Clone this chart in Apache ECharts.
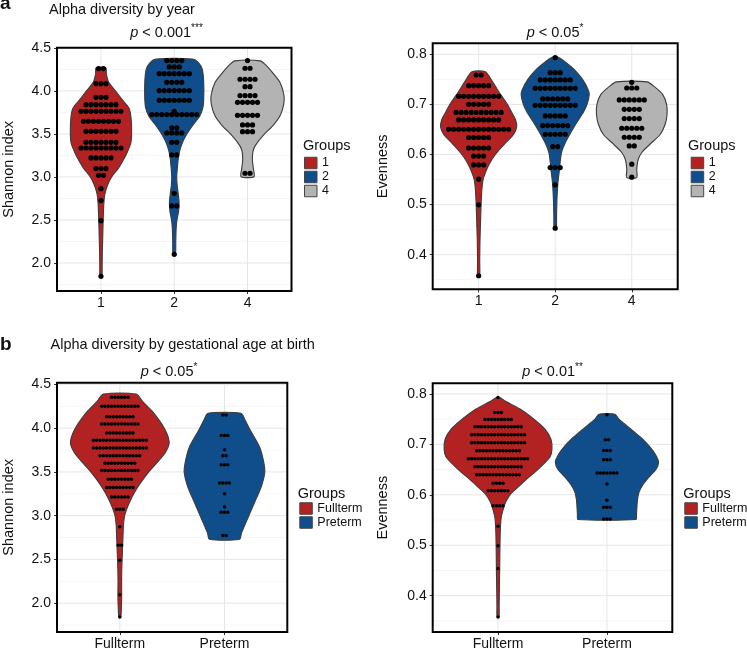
<!DOCTYPE html>
<html><head><meta charset="utf-8">
<script src="https://cdn.jsdelivr.net/npm/echarts@6/dist/echarts.min.js"></script>
<style>html,body{margin:0;padding:0;background:#fff}#c{width:747px;height:651px}</style>
</head><body><div id="c"></div>
<script>
// ---------------- data ----------------
const yearCats = ['1', '2', '4'];
const gestCats = ['Fullterm', 'Preterm'];
const shannonTicks = [2.0, 2.5, 3.0, 3.5, 4.0, 4.5];
const shannonMinor = [1.75, 2.25, 2.75, 3.25, 3.75, 4.25];
const evenTicks = [0.4, 0.5, 0.6, 0.7, 0.8];
const evenMinor = [0.35, 0.45, 0.55, 0.65, 0.75];

// dot-plot rows: [value, number of dots in the row]
const shYear1 = [[4.26,2],[4.085,3],[3.926,3],[3.841,7],[3.764,9],[3.647,8],[3.531,7],[3.403,7],[3.337,9],[3.221,5],[3.097,3],[3.019,2],[2.864,1],[2.725,1],[2.492,1],[1.845,1]];
const shYear2 = [[4.353,4],[4.279,3],[4.2015,7],[4.10,4],[4.004,7],[3.892,7],[3.764,1],[3.725,10],[3.570,2],[3.512,4],[3.403,2],[3.256,2],[2.810,1],[2.663,2],[2.10,1]];
const shYear4 = [[4.353,1],[4.264,2],[4.136,4],[4.05,2],[3.946,4],[3.868,5],[3.717,5],[3.605,3],[3.527,3],[3.043,2]];
const evYear1 = [[0.7587,2],[0.7375,5],[0.7162,9],[0.7003,5],[0.684,10],[0.669,9],[0.6504,13],[0.634,5],[0.613,5],[0.597,3],[0.5793,3],[0.5508,1],[0.4996,1],[0.358,1]];
const evYear2 = [[0.7933,1],[0.7634,3],[0.7488,7],[0.7322,9],[0.7109,6],[0.6983,9],[0.677,5],[0.6577,6],[0.6405,5],[0.6159,2],[0.574,3],[0.5395,1],[0.4531,1]];
const evYear4 = [[0.7441,1],[0.7328,3],[0.7089,6],[0.6903,4],[0.6717,4],[0.6524,5],[0.6345,4],[0.6172,2],[0.5807,1],[0.5548,1]];
const shFull = [[4.355,6],[4.25,12],[4.131,9],[4.047,12],[3.946,9],[3.863,17],[3.773,17],[3.686,13],[3.598,10],[3.515,12],[3.416,8],[3.323,9],[3.213,6],[3.072,3],[2.874,1],[2.662,2],[2.489,1],[2.097,1],[1.842,1]];
const shPre = [[4.152,2],[3.916,3],[3.753,1],[3.684,2],[3.582,3],[3.373,4],[3.251,1],[3.099,1],[3.038,3],[2.772,2]];
const evFull = [[0.7927,1],[0.7631,3],[0.7492,9],[0.7347,15],[0.7189,17],[0.7031,17],[0.6873,14],[0.6715,19],[0.6557,15],[0.6398,14],[0.6227,4],[0.6082,7],[0.5785,4],[0.5377,1],[0.4988,1],[0.4540,1],[0.3578,1]];
const evPre = [[0.7585,1],[0.709,2],[0.688,3],[0.6695,3],[0.6431,7],[0.6214,1],[0.5891,1],[0.5752,3],[0.5522,3]];

// violin outlines: [value, half-width in category units], from top to bottom
const vShYear1 = [[4.27,0.066],[4.2,0.073],[4.1,0.106],[4.0,0.198],[3.9,0.29],[3.8,0.383],[3.7,0.409],[3.55,0.418],[3.4,0.409],[3.3,0.365],[3.2,0.307],[3.1,0.237],[3.0,0.145],[2.9,0.088],[2.8,0.053],[2.7,0.04],[2.5,0.03],[2.3,0.024],[2.1,0.018],[1.95,0.016],[1.845,0.013]];
const vShYear2 = [[4.37,0.251],[4.33,0.33],[4.25,0.383],[4.1,0.402],[3.9,0.402],[3.8,0.389],[3.7,0.343],[3.6,0.251],[3.5,0.172],[3.4,0.112],[3.3,0.073],[3.2,0.053],[3.1,0.042],[3.0,0.034],[2.9,0.04],[2.8,0.055],[2.7,0.066],[2.6,0.059],[2.5,0.037],[2.4,0.026],[2.25,0.021],[2.1,0.016]];
const vShYear4 = [[4.35,0.172],[4.3,0.251],[4.225,0.33],[4.1,0.442],[3.95,0.497],[3.85,0.495],[3.72,0.449],[3.6,0.35],[3.49,0.22],[3.37,0.11],[3.3,0.075],[3.2,0.066],[3.1,0.079],[3.003,0.088]];
const vEvYear1 = [[0.765,0.087],[0.745,0.182],[0.72,0.286],[0.70,0.377],[0.685,0.429],[0.67,0.481],[0.655,0.497],[0.64,0.455],[0.625,0.364],[0.61,0.273],[0.595,0.195],[0.58,0.136],[0.565,0.091],[0.55,0.058],[0.53,0.042],[0.50,0.032],[0.47,0.026],[0.43,0.018],[0.39,0.014],[0.358,0.013]];
const vEvYear2 = [[0.795,0.026],[0.785,0.13],[0.77,0.247],[0.75,0.357],[0.73,0.429],[0.72,0.445],[0.70,0.416],[0.685,0.37],[0.665,0.286],[0.645,0.208],[0.625,0.136],[0.605,0.084],[0.585,0.065],[0.565,0.052],[0.545,0.036],[0.51,0.023],[0.48,0.018],[0.453,0.013]];
const vEvYear4 = [[0.745,0.201],[0.735,0.299],[0.72,0.403],[0.70,0.455],[0.68,0.461],[0.66,0.435],[0.64,0.37],[0.62,0.234],[0.605,0.136],[0.59,0.084],[0.57,0.065],[0.554,0.065]];
const vShFull = [[4.39,0.157],[4.3,0.222],[4.2,0.305],[4.1,0.37],[4.0,0.425],[3.9,0.462],[3.82,0.471],[3.72,0.434],[3.6,0.351],[3.5,0.277],[3.4,0.213],[3.3,0.157],[3.2,0.111],[3.1,0.074],[3.0,0.046],[2.9,0.035],[2.75,0.03],[2.6,0.025],[2.4,0.019],[2.25,0.017],[2.08,0.018],[1.95,0.015],[1.841,0.009]];
const vShPre = [[4.171,0.157],[4.1,0.194],[3.98,0.245],[3.79,0.333],[3.64,0.37],[3.5,0.385],[3.33,0.351],[3.15,0.287],[2.95,0.215],[2.80,0.162],[2.73,0.143]];
const vEvFull = [[0.793,0.014],[0.785,0.073],[0.77,0.202],[0.75,0.33],[0.73,0.431],[0.71,0.486],[0.69,0.495],[0.675,0.477],[0.66,0.413],[0.645,0.339],[0.63,0.257],[0.615,0.183],[0.60,0.11],[0.585,0.069],[0.57,0.046],[0.555,0.029],[0.53,0.021],[0.49,0.017],[0.45,0.015],[0.41,0.012],[0.38,0.01],[0.358,0.009]];
const vEvPre = [[0.7597,0.073],[0.75,0.11],[0.74,0.165],[0.725,0.248],[0.71,0.33],[0.695,0.394],[0.68,0.445],[0.665,0.474],[0.65,0.45],[0.635,0.385],[0.62,0.33],[0.605,0.294],[0.59,0.28],[0.575,0.275],[0.56,0.271],[0.551,0.266]];

// ---------------- styling ----------------
const FONT = 'Liberation Sans, Arial, Helvetica, sans-serif';
const RED = '#B22222', BLUE = '#104E8B', GREY = '#B3B3B3';
const OUTLINE = '#3c3c3c';

const grids = [
  {left: 49.5, top: 47.7, width: 242, height: 243.3},
  {left: 432.7, top: 43.3, width: 245, height: 246},
  {left: 49.3, top: 382.7, width: 238, height: 250},
  {left: 432.7, top: 383.3, width: 239.6, height: 249.4}
];
const yRanges = [[1.674, 4.503], [0.331, 0.822], [1.67, 4.52], [0.328, 0.821]];
const yNames = ['Shannon index', 'Evenness', 'Shannon index', 'Evenness'];
const yTicks = [shannonTicks, evenTicks, shannonTicks, evenTicks];
const yMinor = [shannonMinor, evenMinor, shannonMinor, evenMinor];
const catsOf = [yearCats, yearCats, gestCats, gestCats];

function xPositions(cats) { return cats.map((c, i) => i + 1); }

const xAxes = grids.map((g, i) => {
  const cats = catsOf[i];
  const pos = xPositions(cats);
  return {
    type: 'value', gridIndex: i, min: 0.4, max: cats.length + 0.6,
    axisLine: {show: false}, splitLine: {show: false},
    axisTick: {show: true, customValues: pos, length: 3, lineStyle: {color: '#333', width: 1}},
    axisLabel: {customValues: pos, formatter: v => cats[Math.round(v) - 1], fontSize: 14, color: '#111', margin: 5, fontFamily: FONT}
  };
});
const yAxes = grids.map((g, i) => ({
  type: 'value', gridIndex: i, min: yRanges[i][0], max: yRanges[i][1],
  axisLine: {show: false}, splitLine: {show: false},
  axisTick: {show: true, customValues: yTicks[i], length: 3, lineStyle: {color: '#333', width: 1}},
  axisLabel: {customValues: yTicks[i], formatter: v => v.toFixed(1), fontSize: 14, color: '#111', margin: 6, fontFamily: FONT},
  name: yNames[i], nameLocation: 'middle', nameRotate: 90, nameGap: (i % 2 === 0) ? 41 : 42,
  nameTextStyle: {fontSize: 14.5, color: '#111', fontFamily: FONT}
}));

function gridLineSeries(gi) {
  const cats = catsOf[gi];
  const data = yTicks[gi].map(v => [v, 0])
    .concat(yMinor[gi].map(v => [v, 1]))
    .concat(xPositions(cats).map(v => [v, 2]));
  return {
    type: 'custom', xAxisIndex: gi, yAxisIndex: gi, z: 1, silent: true, data,
    renderItem: (params, api) => {
      const cs = params.coordSys;
      const v = api.value(0), kind = api.value(1);
      if (kind === 2) {
        const p = api.coord([v, yRanges[gi][0]]);
        return {type: 'line', shape: {x1: p[0], y1: cs.y, x2: p[0], y2: cs.y + cs.height},
          style: {stroke: '#e6e6e6', lineWidth: 1}};
      }
      const p = api.coord([1, v]);
      return {type: 'line', shape: {x1: cs.x, y1: p[1], x2: cs.x + cs.width, y2: p[1]},
        style: {stroke: kind === 0 ? '#e6e6e6' : '#f3f3f3', lineWidth: kind === 0 ? 1 : 0.8}};
    }
  };
}

function violinSeries(name, gi, xPos, outline, color) {
  return {
    type: 'custom', name, xAxisIndex: gi, yAxisIndex: gi, z: 2,
    itemStyle: {color, borderColor: OUTLINE},
    data: [[xPos, outline[0][0]]],
    renderItem: (params, api) => {
      const bw = api.size([1, 0])[0];
      const pts = [];
      outline.forEach(([v, w]) => { const c = api.coord([xPos, v]); pts.push([c[0] + w * bw, c[1]]); });
      for (let k = outline.length - 1; k >= 0; k--) {
        const [v, w] = outline[k]; const c = api.coord([xPos, v]); pts.push([c[0] - w * bw, c[1]]);
      }
      return {type: 'polygon', shape: {points: pts, smooth: 0.25},
        style: {fill: color, stroke: OUTLINE, lineWidth: 1.1}};
    }
  };
}

function dotSeries(gi, xPos, rows, d) {
  return {
    type: 'custom', name: 'dots', xAxisIndex: gi, yAxisIndex: gi, z: 3, silent: true,
    data: rows.map(r => [xPos, r[0], r[1]]),
    renderItem: (params, api) => {
      const c = api.coord([api.value(0), api.value(1)]);
      const n = api.value(2);
      const children = [];
      for (let k = 0; k < n; k++) {
        children.push({type: 'circle', shape: {cx: c[0] + (k - (n - 1) / 2) * d, cy: c[1], r: d / 2 + 0.1},
          style: {fill: '#000'}});
      }
      return {type: 'group', children};
    }
  };
}

const series = [];
[0, 1, 2, 3].forEach(gi => series.push(gridLineSeries(gi)));
series.push(violinSeries('1', 0, 1, vShYear1, RED));
series.push(violinSeries('2', 0, 2, vShYear2, BLUE));
series.push(violinSeries('4', 0, 3, vShYear4, GREY));
series.push(violinSeries('1', 1, 1, vEvYear1, RED));
series.push(violinSeries('2', 1, 2, vEvYear2, BLUE));
series.push(violinSeries('4', 1, 3, vEvYear4, GREY));
series.push(violinSeries('Fullterm', 2, 1, vShFull, RED));
series.push(violinSeries('Preterm', 2, 2, vShPre, BLUE));
series.push(violinSeries('Fullterm', 3, 1, vEvFull, RED));
series.push(violinSeries('Preterm', 3, 2, vEvPre, BLUE));
const DA = 5, DB = 3.3;
series.push(dotSeries(0, 1, shYear1, DA));
series.push(dotSeries(0, 2, shYear2, DA));
series.push(dotSeries(0, 3, shYear4, DA));
series.push(dotSeries(1, 1, evYear1, DA));
series.push(dotSeries(1, 2, evYear2, DA));
series.push(dotSeries(1, 3, evYear4, DA));
series.push(dotSeries(2, 1, shFull, DB));
series.push(dotSeries(2, 2, shPre, DB));
series.push(dotSeries(3, 1, evFull, DB));
series.push(dotSeries(3, 2, evPre, DB));

function legend(names, left, top) {
  return {
    orient: 'vertical', left, top, padding: 0, itemGap: 1, itemWidth: 12.5, itemHeight: 11.5,
    icon: 'rect', data: names, selectedMode: false,
    itemStyle: {borderColor: '#444', borderWidth: 1},
    textStyle: {fontSize: 12.5, color: '#111', fontFamily: FONT, lineHeight: 11.5, padding: [0, 0, 0, 0]}
  };
}

const base = {fontSize: 14.5, fontFamily: FONT, color: '#111', fontWeight: 'normal', lineHeight: 18};
const pRich = {
  i: Object.assign({}, base, {fontStyle: 'italic', verticalAlign: 'bottom'}),
  n: Object.assign({}, base, {verticalAlign: 'bottom'}),
  s: Object.assign({}, base, {fontSize: 10, verticalAlign: 'top', padding: [1, 0, 0, 0]})
};
function pTitle(text, cx, top) {
  return {text, left: cx, top, textAlign: 'center', padding: 0,
    textStyle: Object.assign({}, base, {rich: pRich})};
}
function plainTitle(text, left, top, size, weight) {
  return {text, left, top, padding: 0,
    textStyle: {fontSize: size, fontWeight: weight || 'normal', color: '#111', fontFamily: FONT, lineHeight: 18}};
}

const option = {
  animation: false,
  backgroundColor: '#fff',
  textStyle: {fontFamily: FONT},
  grid: grids.map(g => Object.assign({show: true, z: 10, borderColor: '#000', borderWidth: 2, backgroundColor: 'transparent', containLabel: false}, g)),
  xAxis: xAxes,
  yAxis: yAxes,
  title: [
    plainTitle('a', 0, -5, 19, 'bold'),
    plainTitle('Alpha diversity by year', 49, 1, 14.5),
    pTitle('{i|p}{n| < 0.001}{s|***}', 166.5, 22.7),
    pTitle('{i|p}{n| < 0.05}{s|*}', 555, 22.7),
    plainTitle('Groups', 303, 137, 14.5),
    plainTitle('Groups', 688, 137, 14.5),
    plainTitle('b', 0, 336, 19, 'bold'),
    plainTitle('Alpha diversity by gestational age at birth', 50.5, 336, 14.5),
    pTitle('{i|p}{n| < 0.05}{s|*}', 169, 361),
    pTitle('{i|p}{n| < 0.01}{s|**}', 552.5, 361),
    plainTitle('Groups', 297.7, 484.5, 14.5),
    plainTitle('Groups', 683.3, 484.5, 14.5)
  ],
  legend: [
    legend(yearCats, 304, 156.5),
    legend(yearCats, 690.7, 156.5),
    legend(gestCats, 299.3, 502),
    legend(gestCats, 684.3, 502)
  ],
  series
};

const chart = echarts.init(document.getElementById('c'), null, {renderer: 'canvas'});
chart.setOption(option);
</script>
</body></html>
